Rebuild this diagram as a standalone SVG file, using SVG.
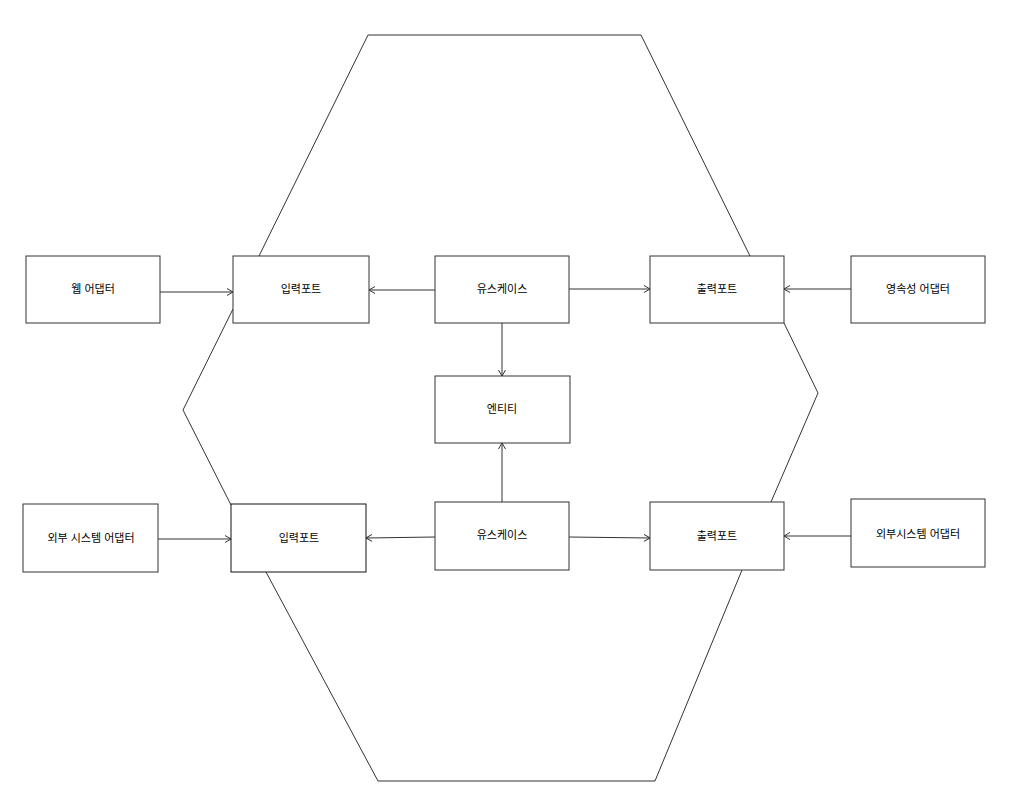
<svg xmlns="http://www.w3.org/2000/svg" width="1009" height="809" viewBox="0 0 1009 809">
<style>
.box{fill:#ffffff;stroke:#333333;stroke-width:1}
.lbl{font-family:"Liberation Sans","Noto Sans CJK KR",sans-serif;font-size:11px;fill:#000000;text-anchor:middle;dominant-baseline:central}
.hex{fill:none;stroke:#333333;stroke-width:1}
.conn{fill:none;stroke:#333333;stroke-width:1;marker-end:url(#arr)}
</style>
<defs>
<marker id="arr" markerUnits="userSpaceOnUse" markerWidth="10" markerHeight="10" refX="7" refY="4" orient="auto">
<path d="M1,0.5 L7,4 L1,7.5" fill="none" stroke="#333333" stroke-width="1"/>
</marker>
</defs>
<rect width="1009" height="809" fill="#ffffff"/>
<g id="hexagon">
<polyline class="hex" points="259,256 368,35 641,35 750,256"/>
<polyline class="hex" points="233,309 183,410 231,505"/>
<polyline class="hex" points="266,572 378,781 655,781 742,570"/>
<polyline class="hex" points="784,323 818,393 771,502"/>
</g>
<g id="connectors">
<line class="conn" x1="160" y1="292" x2="233" y2="292"/>
<line class="conn" x1="435" y1="290" x2="369" y2="290"/>
<line class="conn" x1="569" y1="289" x2="650" y2="289"/>
<line class="conn" x1="851" y1="289" x2="784" y2="289"/>
<line class="conn" x1="502" y1="323" x2="502" y2="376"/>
<line class="conn" x1="502" y1="502" x2="502" y2="443"/>
<line class="conn" x1="158" y1="539" x2="231" y2="539"/>
<line class="conn" x1="435" y1="537" x2="366" y2="538"/>
<line class="conn" x1="569" y1="537" x2="650" y2="538"/>
<line class="conn" x1="851" y1="536" x2="784" y2="536"/>
</g>
<g id="web-adapter"><rect class="box" x="26" y="256" width="134" height="67"/><text class="lbl" x="93" y="289">웹 어댑터</text></g>
<g id="input-port-1"><rect class="box" x="233" y="256" width="136" height="67"/><text class="lbl" x="301" y="289">입력포트</text></g>
<g id="usecase-1"><rect class="box" x="435" y="256" width="134" height="67"/><text class="lbl" x="502" y="289">유스케이스</text></g>
<g id="output-port-1"><rect class="box" x="650" y="256" width="134" height="67"/><text class="lbl" x="717" y="289">출력포트</text></g>
<g id="persistence-adapter"><rect class="box" x="851" y="256" width="134" height="67"/><text class="lbl" x="918" y="289">영속성 어댑터</text></g>
<g id="entity"><rect class="box" x="435" y="376" width="135" height="67"/><text class="lbl" x="502" y="409">엔티티</text></g>
<g id="external-adapter-1"><rect class="box" x="23" y="504" width="135" height="68"/><text class="lbl" x="91" y="538">외부 시스템 어댑터</text></g>
<g id="input-port-2"><rect class="box" x="231" y="504" width="135" height="68" style="stroke:#111111"/><text class="lbl" x="299" y="538">입력포트</text></g>
<g id="usecase-2"><rect class="box" x="435" y="502" width="134" height="68"/><text class="lbl" x="502" y="535">유스케이스</text></g>
<g id="output-port-2"><rect class="box" x="650" y="502" width="134" height="68"/><text class="lbl" x="717" y="536">출력포트</text></g>
<g id="external-adapter-2"><rect class="box" x="851" y="499" width="134" height="68"/><text class="lbl" x="918" y="534">외부시스템 어댑터</text></g>
</svg>
